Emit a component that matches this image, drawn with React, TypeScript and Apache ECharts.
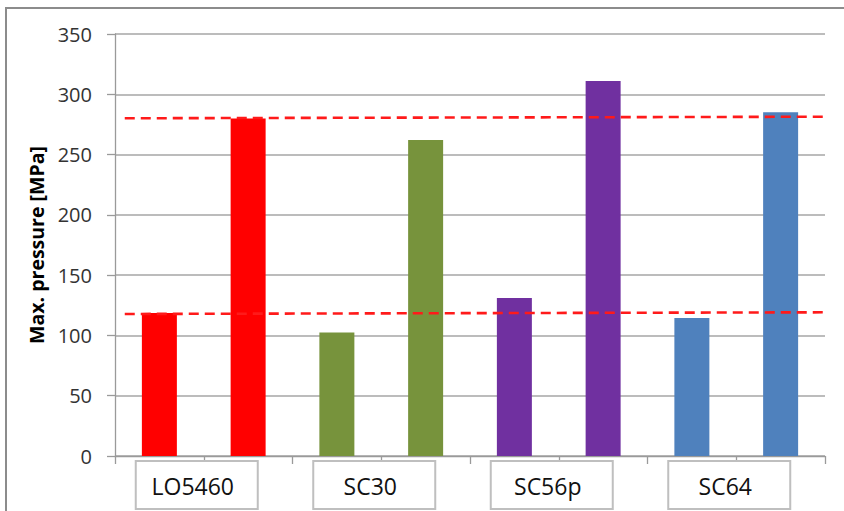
import { useEffect, useRef } from "react";
import * as echarts from "echarts";

// Material groups, each tested at two levels
const groups = ["LO5460", "SC30", "SC56p", "SC64"];
const slots = [
  "LO5460-1", "LO5460-2",
  "SC30-1", "SC30-2",
  "SC56p-1", "SC56p-2",
  "SC64-1", "SC64-2",
];
// Max. pressure [MPa] per slot
const maxPressure = [118.5, 280, 102.5, 262, 131, 311, 114.5, 285];
const groupColors = ["#ff0000", "#77933c", "#7030a0", "#4f81bd"];

// Reference levels (x in slot units, y in MPa)
const upperLevel = [[0.11, 280.1], [7.98, 281.4]];
const lowerLevel = [[0.11, 117.8], [8.08, 119.2]];

const yTicks = { min: 0, max: 350, interval: 50 };

export default function App() {
  const ref = useRef<HTMLDivElement>(null);

  useEffect(() => {
    if (!ref.current) return;
    const chart = echarts.init(ref.current, undefined, { renderer: "svg" });
    const font = "'Open Sans', 'Noto Sans', sans-serif";

    chart.setOption({
      animation: false,
      backgroundColor: "#ffffff",
      grid: { left: 115, right: 19, top: 34, bottom: 55, containLabel: false },
      xAxis: [
        {
          type: "category",
          data: slots,
          boundaryGap: true,
          axisLine: { show: true, lineStyle: { color: "#9a9a9a", width: 1.3 } },
          axisTick: { show: true, length: 8, alignWithLabel: false, lineStyle: { color: "#9a9a9a", width: 1.3 } },
          axisLabel: { show: false },
          splitLine: { show: false },
        },
        {
          type: "value",
          min: 0,
          max: 8,
          show: false,
        },
      ],
      yAxis: {
        type: "value",
        min: yTicks.min,
        max: yTicks.max,
        interval: yTicks.interval,
        name: "Max. pressure [MPa]",
        nameLocation: "middle",
        nameRotate: 90,
        nameGap: 65,
        nameTextStyle: {
          fontFamily: font,
          fontWeight: "bold",
          fontSize: 19.5,
          color: "#000000",
        },
        axisLine: { show: true, lineStyle: { color: "#9a9a9a", width: 1.3 } },
        axisTick: { show: true, length: 8, lineStyle: { color: "#9a9a9a", width: 1.3 } },
        axisLabel: {
          margin: 23,
          fontFamily: font,
          fontSize: 20,
          color: "#333333",
        },
        splitLine: { show: true, lineStyle: { color: "#a6a6a6", width: 1.5 } },
      },
      series: [
        {
          type: "bar",
          xAxisIndex: 0,
          barWidth: 35,
          data: maxPressure.map((v, i) => ({
            value: v,
            itemStyle: { color: groupColors[Math.floor(i / 2)] },
          })),
          z: 2,
        },
        {
          type: "line",
          xAxisIndex: 1,
          data: upperLevel,
          symbol: "none",
          clip: false,
          lineStyle: { color: "#ff1a1a", width: 2.6, type: [10, 6] },
          z: 3,
        },
        {
          type: "line",
          xAxisIndex: 1,
          data: lowerLevel,
          symbol: "none",
          clip: false,
          lineStyle: { color: "#ff1a1a", width: 2.6, type: [10, 6] },
          z: 3,
        },
      ],
    });

    // Boxed group labels under each pair of bars
    const boxes: any[] = [];
    groups.forEach((g, gi) => {
      const x0 = chart.convertToPixel({ xAxisIndex: 0 }, slots[2 * gi]) as number;
      const x1 = chart.convertToPixel({ xAxisIndex: 0 }, slots[2 * gi + 1]) as number;
      const cx = (x0 + x1) / 2 - 7;
      boxes.push({
        type: "rect",
        shape: { x: cx - 61, y: 461, width: 122, height: 48 },
        style: { fill: "#ffffff", stroke: "#bfbfbf", lineWidth: 2 },
        z: 10,
      });
      boxes.push({
        type: "text",
        x: cx - 4,
        y: 486,
        style: {
          text: g,
          fontFamily: font,
          fontSize: 23,
          fill: "#111111",
          align: "center",
          verticalAlign: "middle",
        },
        z: 11,
      });
    });

    chart.setOption({
      graphic: [
        {
          type: "rect",
          shape: { x: 6, y: 8, width: 900, height: 600 },
          style: { fill: "none", stroke: "#8c8c8c", lineWidth: 2 },
          z: 0,
          silent: true,
        },
        ...boxes,
      ],
    });

    return () => chart.dispose();
  }, []);

  return (
    <div
      ref={ref}
      style={{ position: "fixed", left: 0, top: 0, width: 844, height: 511 }}
    />
  );
}
